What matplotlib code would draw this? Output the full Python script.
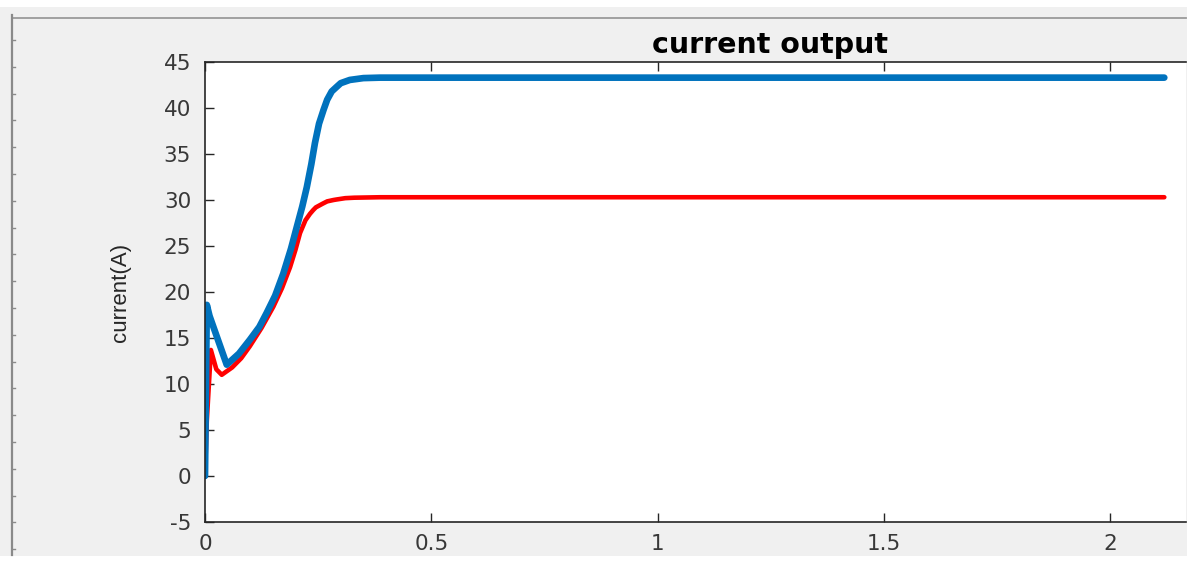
import matplotlib
matplotlib.use("Agg")
import matplotlib.pyplot as plt
from matplotlib.lines import Line2D
from matplotlib.patches import Rectangle
from matplotlib import font_manager

# Simulated output current of the two channels (time in s, current in A)
t_blue = [0.0, 0.004, 0.010, 0.048, 0.075, 0.099, 0.120, 0.136, 0.155, 0.173,
          0.190, 0.203, 0.215, 0.225, 0.235, 0.243, 0.252, 0.262, 0.270, 0.280,
          0.291, 0.300, 0.320, 0.335, 0.350, 0.387, 0.5, 1.0, 1.5, 2.0, 2.12]
i_blue = [0.0, 18.6, 17.4, 12.1, 13.3, 14.8, 16.2, 17.7, 19.6, 22.0,
          24.7, 27.1, 29.3, 31.4, 33.9, 36.2, 38.3, 39.8, 40.9, 41.8,
          42.3, 42.7, 43.05, 43.15, 43.25, 43.3, 43.3, 43.3, 43.3, 43.3, 43.3]

t_red = [0.0, 0.004, 0.013, 0.025, 0.037, 0.060, 0.080, 0.099, 0.125, 0.151,
         0.170, 0.188, 0.200, 0.210, 0.222, 0.232, 0.239, 0.245, 0.260, 0.270,
         0.284, 0.290, 0.310, 0.330, 0.387, 0.5, 1.0, 1.5, 2.0, 2.12]
i_red = [0.0, 6.0, 13.7, 11.6, 11.0, 11.8, 12.8, 14.1, 16.1, 18.4,
         20.4, 22.7, 24.6, 26.4, 27.8, 28.5, 28.9, 29.2, 29.6, 29.85,
         30.0, 30.05, 30.2, 30.25, 30.3, 30.3, 30.3, 30.3, 30.3, 30.3]

x_ticks = [0, 0.5, 1, 1.5, 2]
x_tick_labels = ["0", "0.5", "1", "1.5", "2"]
y_ticks = [-5, 0, 5, 10, 15, 20, 25, 30, 35, 40, 45]
y_tick_labels = [str(v) for v in y_ticks]

W, H = 1192, 563
fig = plt.figure(figsize=(W / 100, H / 100), dpi=100)
fig.patch.set_facecolor("white")


def fx(px):
    return px / W


def fy(py):
    return 1 - py / H


# grey figure panel
fig.add_artist(Rectangle((fx(0), fy(556)), fx(1187), (556 - 7) / H,
                         transform=fig.transFigure, facecolor="#f0f0f0",
                         edgecolor="none", zorder=0))
# panel border lines with small ruler ticks on the left side
fig.add_artist(Line2D([fx(12), fx(1186)], [fy(18), fy(18)], transform=fig.transFigure,
                      color="#9a9a9a", lw=1.3, zorder=1))
fig.add_artist(Line2D([fx(12), fx(12)], [fy(15), fy(555)], transform=fig.transFigure,
                      color="#8a8a8a", lw=1.6, zorder=1))
yy = 40.0
while yy < 556:
    fig.add_artist(Line2D([fx(12), fx(15)], [fy(yy), fy(yy)], transform=fig.transFigure,
                          color="#8a8a8a", lw=1.0, zorder=1))
    yy += 26.8

ax = fig.add_axes([fx(205), fy(522), fx(1186) - fx(205), (522 - 62) / H])
ax.set_facecolor("white")
ax.set_zorder(2)

ax.plot(t_red, i_red, color="#ff0000", lw=3.3, solid_joinstyle="round",
        solid_capstyle="round")
ax.plot(t_blue, i_blue, color="#0072bd", lw=4.8, solid_joinstyle="round",
        solid_capstyle="round")

ax.set_xlim(0, (1186 - 205) / 452.5)
ax.set_ylim(-5, 45)
ax.set_xticks(x_ticks)
ax.set_xticklabels(x_tick_labels)
ax.set_yticks(y_ticks)
ax.set_yticklabels(y_tick_labels)

tick_color = "#262626"
ax.tick_params(axis="both", direction="in", length=6.5, width=1.0, color=tick_color,
               labelcolor="#383838", labelsize=15.5, top=True, right=False)
ax.tick_params(axis="y", pad=10)
ax.tick_params(axis="x", pad=9)
for lab in ax.get_xticklabels() + ax.get_yticklabels():
    lab.set_family("DejaVu Sans")

for side in ("left", "bottom", "top"):
    ax.spines[side].set_color(tick_color)
    ax.spines[side].set_linewidth(1.2)
ax.spines["right"].set_visible(False)

available = {f.name for f in font_manager.fontManager.ttflist}
ylab_family = "Liberation Sans Narrow" if "Liberation Sans Narrow" in available else "Liberation Sans"
fig.text(fx(121), fy(292), "current(A)", rotation=90, ha="center", va="center",
         fontsize=16, color="#262626", family=ylab_family)

fig.text(fx(770), fy(45), "current output", ha="center", va="center",
         fontsize=20.5, fontweight="bold", color="#000000", family="DejaVu Sans")

fig.savefig("out.png", dpi=100, facecolor=fig.get_facecolor())
